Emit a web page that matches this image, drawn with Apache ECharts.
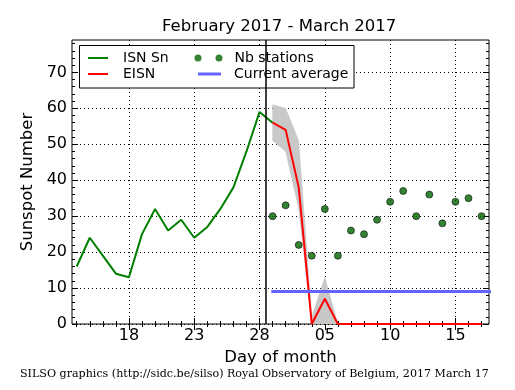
<!DOCTYPE html>
<html><head><meta charset="utf-8">
<script src="https://cdn.jsdelivr.net/npm/echarts@6/dist/echarts.min.js"></script>
<style>html,body{margin:0;padding:0;background:#fff}#c{width:515px;height:390px}</style>
</head><body><div id="c"></div>
<script>
// ---- data (day index: Feb d -> d, Mar d -> 28 + d) ----
const isnDays = [14,15,16,17,18,19,20,21,22,23,24,25,26,27,28,29];
const isnValues = [16,24,19,14,13,25,32,26,29,24,27,32,38,48,59,56];
const eisnDays = [29,30,31,32,33,34,35,36,37,38,39,40,41,42,43,44,45];
const eisnValues = [56,54,38,0,7,0,0,0,0,0,0,0,0,0,0,0,0];
const bandDays = [29,30,31,32,33,34];
const bandLow = [51,48,32,0,0,0];
const bandHigh = [61,60,51,2,13,0];
const stationDays = [29,30,31,32,33,34,35,36,37,38,39,40,41,42,43,44,45];
const stationValues = [30,33,22,19,32,19,26,25,29,34,37,30,36,28,34,35,30];
const avgDays = [28.9, 46];
const avgValues = [9.05, 9.05];
const nowDay = 28.5;
const xTickDays = [18,23,28,33,38,43];
const xTickLabels = ['18','23','28','05','10','15'];
const yTicks = [0,10,20,30,40,50,60,70];
const yTickLabels = ['0','10','20','30','40','50','60','70'];

const XMIN = 13.64, XMAX = 45.57, YMIN = 0, YMAX = 79;
const minorDays = []; for (let d = 14; d <= 45; d++) minorDays.push(d);
const minorY = []; for (let v = 0; v <= 78; v += 2) minorY.push(v);
const FONT = 'DejaVu Sans';

function xAx(pos, ticks, len, main) {
  return {
    type: 'value', min: XMIN, max: XMAX, position: pos,
    axisLine: { show: false },
    axisTick: { show: true, inside: true, length: len, customValues: ticks, lineStyle: { color: '#000', width: 1 } },
    axisLabel: main ? { show: true, customValues: xTickDays, color: '#000', fontFamily: FONT, fontSize: 16, margin: 4,
      formatter: v => xTickLabels[xTickDays.indexOf(Math.round(v))] } : { show: false },
    splitLine: main ? { show: true, lineStyle: { color: '#000', type: [1, 3], width: 1 } } : { show: false },
    minorTick: { show: false }, minorSplitLine: { show: false },
    name: main ? 'Day of month' : '', nameLocation: 'middle', nameGap: 24,
    nameTextStyle: { color: '#000', fontFamily: FONT, fontSize: 16.5 }
  };
}
function yAx(pos, ticks, len, main) {
  return {
    type: 'value', min: YMIN, max: YMAX, position: pos,
    axisLine: { show: false },
    axisTick: { show: true, inside: true, length: len, customValues: ticks, lineStyle: { color: '#000', width: 1 } },
    axisLabel: main ? { show: true, customValues: yTicks, color: '#000', fontFamily: FONT, fontSize: 16, margin: 5,
      formatter: v => yTickLabels[yTicks.indexOf(Math.round(v))] } : { show: false },
    splitLine: main ? { show: true, lineStyle: { color: '#000', type: [1, 3], width: 1 } } : { show: false },
    minorTick: { show: false }, minorSplitLine: { show: false },
    name: main ? 'Sunspot Number' : '', nameLocation: 'middle', nameGap: 33,
    nameTextStyle: { color: '#000', fontFamily: FONT, fontSize: 16.5 }
  };
}
function leg(name, left, top, w, h, icon, pad) {
  return {
    data: [{ name: name, icon: icon }], left: left, top: top, padding: 0, itemGap: 0,
    itemWidth: w, itemHeight: h, selectedMode: false, orient: 'horizontal',
    textStyle: { color: '#000', fontFamily: FONT, fontSize: 14, padding: [0, 0, 0, pad] },
    itemStyle: { borderWidth: 0 }
  };
}

const chart = echarts.init(document.getElementById('c'), null, { renderer: 'canvas' });
chart.setOption({
  animation: false,
  backgroundColor: '#fff',
  title: [
    { text: 'February 2017 - March 2017', left: 162, top: 18, padding: 0,
      textStyle: { color: '#000', fontFamily: FONT, fontSize: 16.5, fontWeight: 'normal' } },
    { text: 'SILSO graphics (http://sidc.be/silso) Royal Observatory of Belgium, 2017 March 17', left: 20, top: 369, padding: 0,
      textStyle: { color: '#000', fontFamily: 'DejaVu Serif', fontSize: 11.1, fontWeight: 'normal' } }
  ],
  grid: { left: 72, top: 40, right: 26, bottom: 66, show: true, borderColor: '#000', borderWidth: 1, backgroundColor: 'transparent' },
  xAxis: [xAx('bottom', xTickDays, 6, true), xAx('bottom', minorDays, 3, false), xAx('top', xTickDays, 6, false), xAx('top', minorDays, 3, false)],
  yAxis: [yAx('left', yTicks, 6, true), yAx('left', minorY, 3, false), yAx('right', yTicks, 6, false), yAx('right', minorY, 3, false)],
  legend: [
    leg('ISN Sn', 88, 51, 20, 2, 'rect', 10),
    leg('EISN', 88, 67, 20, 2, 'rect', 10),
    leg('Nb stations', 194.5, 51, 28, 7, 'path://M0,3.5A3.5,3.5 0 1 1 7,3.5A3.5,3.5 0 1 1 0,3.5ZM21,3.5A3.5,3.5 0 1 1 28,3.5A3.5,3.5 0 1 1 21,3.5Z', 7),
    leg('Current average', 198, 67, 23, 3, 'rect', 8)
  ],
  graphic: [
    { type: 'rect', z: 3, shape: { x: 79.5, y: 45.5, width: 274.5, height: 42.5 },
      style: { fill: '#fff', stroke: '#000', lineWidth: 1 } }
  ],
  series: [
    { type: 'custom', name: 'band', silent: true, z: 1, clip: true,
      data: bandDays.map((d, i) => [d, bandLow[i], bandHigh[i]]),
      encode: { x: 0, y: [1, 2] },
      renderItem: function (params, api) {
        if (params.dataIndex !== 0) return null;
        const pts = [];
        for (let i = 0; i < bandDays.length; i++) pts.push(api.coord([bandDays[i], bandHigh[i]]));
        for (let i = bandDays.length - 1; i >= 0; i--) pts.push(api.coord([bandDays[i], bandLow[i]]));
        return { type: 'polygon', shape: { points: pts }, style: { fill: '#c8c8c8', stroke: '#c8c8c8', lineWidth: 0.5 } };
      } },
    { type: 'line', name: 'ISN Sn', data: isnDays.map((d, i) => [d, isnValues[i]]), color: '#007f00',
      symbol: 'none', lineStyle: { width: 2, color: '#007f00' }, z: 3 },
    { type: 'line', name: 'EISN', data: eisnDays.map((d, i) => [d, eisnValues[i]]), color: '#ff0000',
      symbol: 'none', lineStyle: { width: 2, color: '#ff0000' }, z: 3 },
    { type: 'line', name: 'Current average', data: avgDays.map((d, i) => [d, avgValues[i]]), color: '#6464ff',
      symbol: 'none', lineStyle: { width: 3, color: '#6464ff' }, z: 3,
      markLine: { silent: true, symbol: ['none', 'none'], label: { show: false },
        lineStyle: { color: '#000', type: 'solid', width: 1.5 }, data: [{ xAxis: nowDay }] } },
    { type: 'scatter', name: 'Nb stations', data: stationDays.map((d, i) => [d, stationValues[i]]), color: '#006400',
      symbolSize: 7, itemStyle: { color: '#006400', borderColor: '#000', borderWidth: 0.7 }, z: 4 }
  ]
});
</script>
</body></html>
